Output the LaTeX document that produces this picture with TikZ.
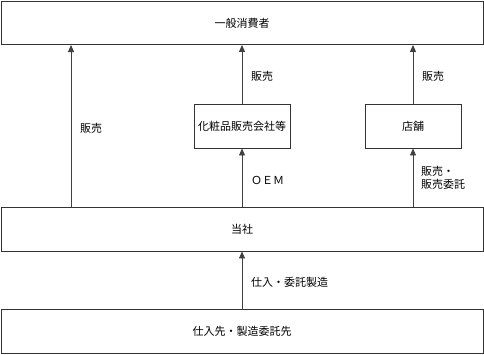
\documentclass[tikz,border=0pt]{standalone}
\usepackage{fontspec}
\setmainfont{Noto Sans CJK JP}
\usetikzlibrary{arrows.meta}
\begin{document}
\begin{tikzpicture}[x=1pt,y=-1pt,
  box/.style={draw=black!80,line width=0.9pt,inner sep=0pt,font=\fontsize{11}{13}\selectfont},
  lbl/.style={inner sep=0pt,anchor=west,font=\fontsize{11}{13}\selectfont,align=left},
  arr/.style={draw=black!75,line width=0.9pt,-{Triangle[length=7pt,width=6pt]}}]
\useasboundingbox (0,0) rectangle (484,354);
\node[box,minimum width=482pt,minimum height=43pt] (cons) at (242,23) {一般消費者};
\node[box,minimum width=96pt,minimum height=44pt] (cosm) at (242,126) {化粧品販売会社等};
\node[box,minimum width=96pt,minimum height=44pt] (shop) at (413,126) {店舗};
\node[box,minimum width=482pt,minimum height=44pt] (co) at (242,229) {当社};
\node[box,minimum width=482pt,minimum height=44pt] (sup) at (242,331) {仕入先・製造委託先};
\coordinate (l1) at (71,207);
\coordinate (l2) at (71,45);
\draw[arr] (l1) -- (l2);
\draw[arr] (cosm.north) -- (cons.south);
\draw[arr] (shop.north) -- (cons.south -| shop.north);
\draw[arr] (co.north) -- (cosm.south);
\draw[arr] (co.north -| shop.south) -- (shop.south);
\draw[arr] (sup.north) -- (co.south);
\node[lbl] (t1) at (80,128) {販売};
\node[lbl] (t2) at (251,76) {販売};
\node[lbl] (t3) at (422,76) {販売};
\node[lbl] (t4) at (251,180) {ＯＥＭ};
\node[lbl] (t5) at (421,178) {販売・\\販売委託};
\node[lbl] (t6) at (251,282) {仕入・委託製造};
\end{tikzpicture}
\end{document}
